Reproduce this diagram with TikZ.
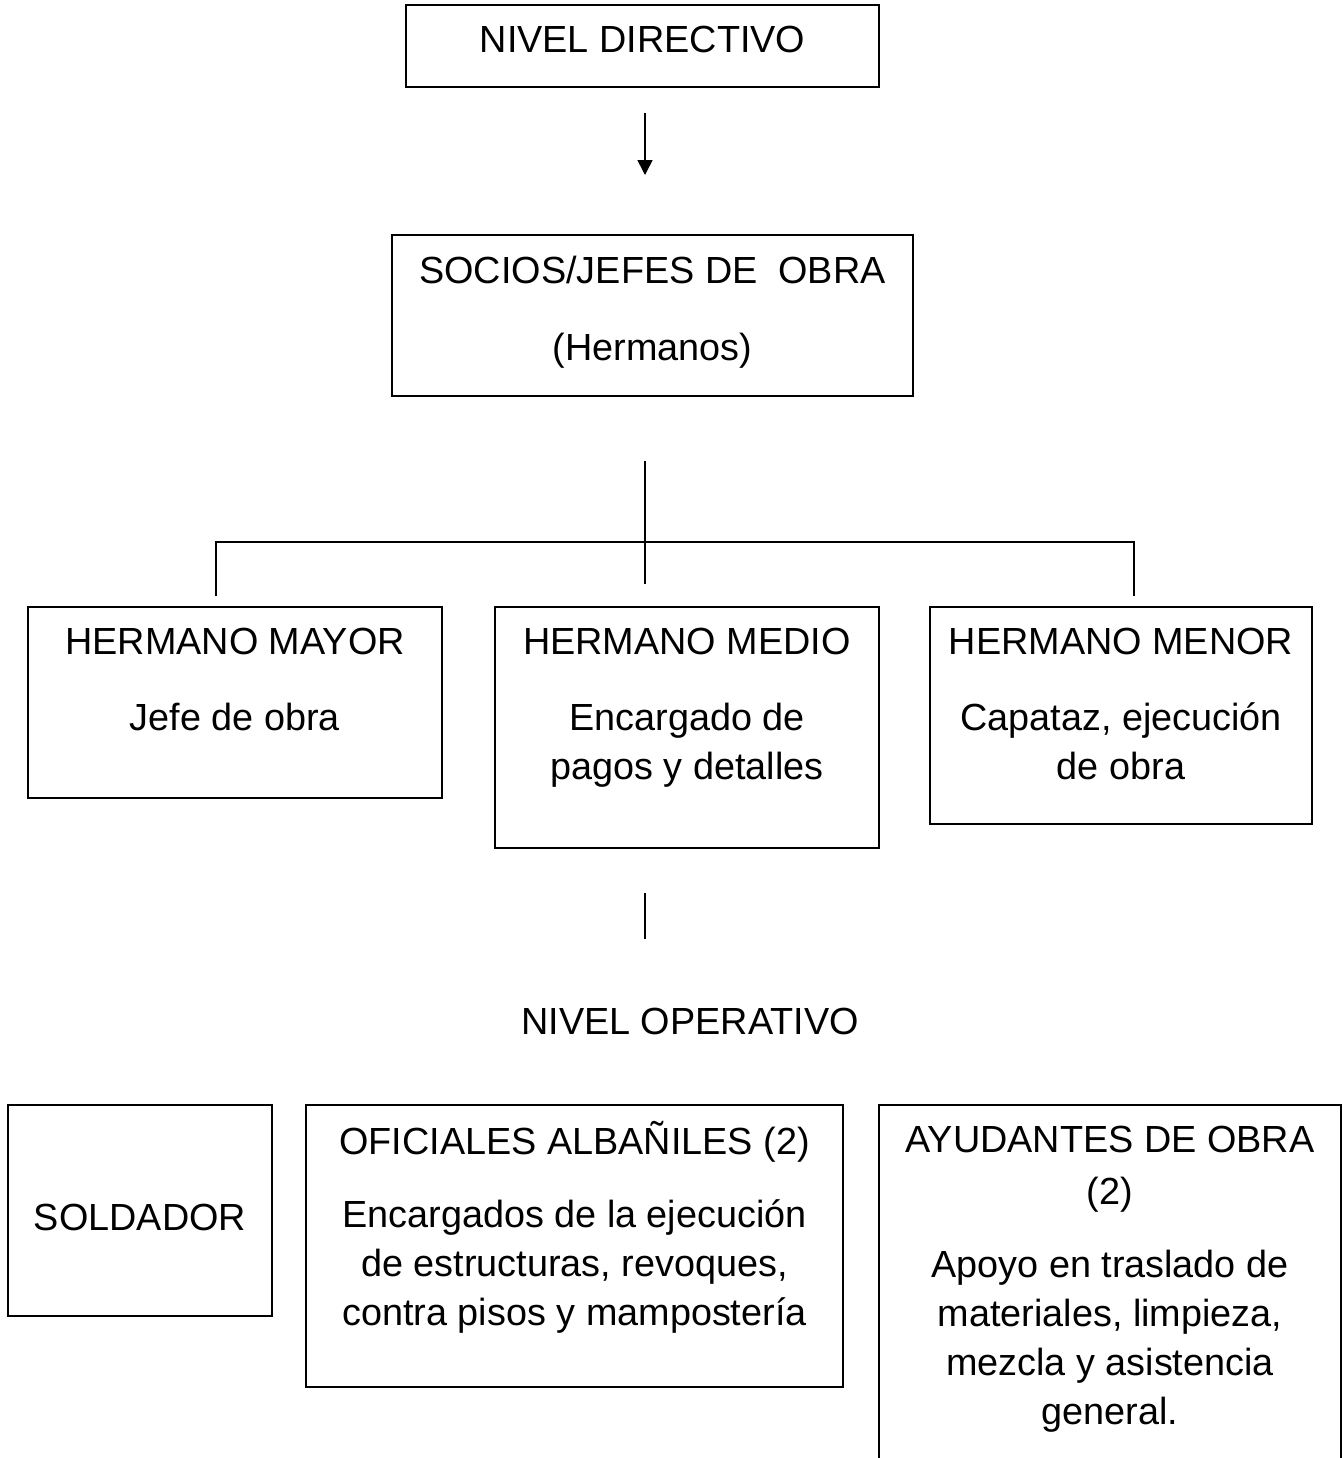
\documentclass[tikz,border=0pt]{standalone}
\usepackage{fontspec}
\setmainfont{Liberation Sans}
\usetikzlibrary{positioning}
\usetikzlibrary{arrows.meta}
\def\thickness{thick}
\tikzset{
orgbox/.style 2 args={draw, \thickness, minimum width=#1, minimum height=#2, inner sep=0pt},
orgtext/.style={anchor=north, align=center, inner sep=0pt, font=\fontsize{18.9}{24.5}\selectfont},
}
\begin{document}
\begin{tikzpicture}[x=0.5pt, y=-0.5pt]
\useasboundingbox (0,0) rectangle (1343,1458);
\clip (0,0) rectangle (1343,1458);
%Place the boxes
\node[orgbox={236.5pt}{41pt}] (dir) at (642.5,46) {};
\node[orgbox={260.5pt}{80.5pt}] (soc) at (652.5,315.5) {};
\node[orgbox={207pt}{95.5pt}] (mayor) at (235,702.5) {};
\node[orgbox={192pt}{120.5pt}] (medio) at (687,727.5) {};
\node[orgbox={191pt}{108.5pt}] (menor) at (1121,715.5) {};
\node[orgbox={132pt}{105.5pt}] (sold) at (140,1210.5) {};
\node[orgbox={268.5pt}{141pt}] (ofi) at (574.5,1246) {};
\node[orgbox={231pt}{207.5pt}] (ayu) at (1110,1312.5) {};

%Texts in the boxes
\node[orgtext, below=6.85pt of dir.north] (dirtxt) {\strut NIVEL DIRECTIVO};
\node[orgtext, below=7.35pt of soc.north] (soctxt) {\strut SOCIOS/JEFES DE\ \ OBRA\\[14pt] (Hermanos)};
\node[orgtext, below=6.85pt of mayor.north] (mayortxt) {\strut HERMANO MAYOR\\[13.5pt] Jefe de obra};
\node[orgtext, below=6.85pt of medio.north] (mediotxt) {\strut HERMANO MEDIO\\[13.5pt] Encargado de\\ pagos y detalles};
\node[orgtext, below=6.85pt of menor.north] (menortxt) {\strut HERMANO MENOR\\[13.5pt] Capataz, ejecución\\ de obra};
\node[orgtext] (optxt) at (690,999.7) {\strut NIVEL OPERATIVO};
\node[orgtext, below=45.85pt of sold.north] (soldtxt) {\strut SOLDADOR};
\node[orgtext, below=7.85pt of ofi.north] (ofitxt) {\strut OFICIALES ALBAÑILES (2)\\[12pt] Encargados de la ejecución\\ de estructuras, revoques,\\ contra pisos y mampostería};
\node[orgtext, below=6.85pt of ayu.north] (ayutxt) {\strut AYUDANTES DE OBRA\\[1.5pt] (2)\\[12pt] Apoyo en traslado de\\ materiales, limpieza,\\ mezcla y asistencia\\ general.};

%Connectors
\coordinate (a0) at (645,113);
\coordinate (a1) at (645,175);
\draw[\thickness, -{Triangle[length=7.5pt, width=7.5pt]}] (a0) -- (a1);

\coordinate (t0) at (645,461);
\coordinate (t1) at (645,584);
\coordinate (hr) at (1134,542);
\coordinate (dl) at (216,596);
\coordinate (dr) at (1134,596);
\draw[\thickness] (t0) -- (t1);
\draw[\thickness] (dl) |- (hr) -- (dr);

\coordinate (b0) at (645,893);
\coordinate (b1) at (645,939);
\draw[\thickness] (b0) -- (b1);
\end{tikzpicture}
\end{document}
